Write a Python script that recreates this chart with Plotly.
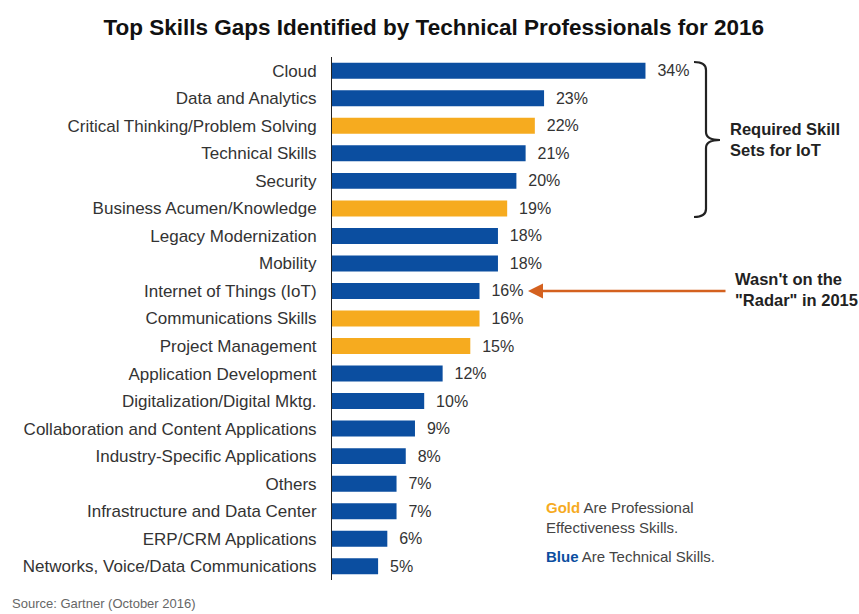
import plotly.graph_objects as go

categories = [
    "Cloud", "Data and Analytics", "Critical Thinking/Problem Solving", "Technical Skills",
    "Security", "Business Acumen/Knowledge", "Legacy Modernization", "Mobility",
    "Internet of Things (IoT)", "Communications Skills", "Project Management",
    "Application Development", "Digitalization/Digital Mktg.",
    "Collaboration and Content Applications", "Industry-Specific Applications", "Others",
    "Infrastructure and Data Center", "ERP/CRM Applications",
    "Networks, Voice/Data Communications",
]
values = [34, 23, 22, 21, 20, 19, 18, 18, 16, 16, 15, 12, 10, 9, 8, 7, 7, 6, 5]
skill_type = ["T", "T", "P", "T", "T", "P", "T", "T", "T", "P", "P", "T", "T", "T", "T", "T", "T", "T", "T"]

BLUE = "#0B4EA0"
GOLD = "#F6AB1F"
ORANGE = "#D4611F"
colors = [GOLD if t == "P" else BLUE for t in skill_type]
FONT = "Liberation Sans, Arial"

W, H = 859, 614
L, R, T, B = 332, 0, 57, 34
PW, PH = W - L - R, H - T - B


def px(x):
    return (x - L) / PW


def py(y):
    return (H - B - y) / PH


fig = go.Figure(go.Bar(
    y=categories, x=values, orientation="h",
    marker=dict(color=colors, line=dict(width=0)),
    text=[f"  {v}%" for v in values], textposition="outside",
    constraintext="none",
    textfont=dict(family=FONT, size=16, color="#333"),
    cliponaxis=False, width=0.58,
))

fig.update_layout(
    width=W, height=H,
    margin=dict(l=L, r=R, t=T, b=B),
    paper_bgcolor="white", plot_bgcolor="white",
    showlegend=False,
    font=dict(family=FONT, color="#333"),
    title=dict(
        text="<b>Top Skills Gaps Identified by Technical Professionals for 2016</b>",
        x=0.505, xanchor="center", y=1 - 27 / H, yanchor="middle",
        font=dict(family=FONT, size=22.5, color="#111"),
    ),
    xaxis=dict(range=[0, PW / 9.22], visible=False),
    yaxis=dict(
        autorange="reversed", showline=True, linecolor="#222", linewidth=1,
        ticks="", ticklabelstandoff=11, showgrid=False,
        tickfont=dict(family=FONT, size=17, color="#333"),
    ),
)

# brace
x0, x1, xt = px(694), px(706), px(720)
ytop, ymid, ybot = py(62), py(140), py(217)
d1 = py(62) - py(70)
path = (
    f"M {x0},{ytop} Q {x1},{ytop} {x1},{ytop - d1} "
    f"L {x1},{ymid + d1} Q {x1},{ymid} {xt},{ymid} "
    f"Q {x1},{ymid} {x1},{ymid - d1} "
    f"L {x1},{ybot + d1} Q {x1},{ybot} {x0},{ybot}"
)
fig.add_shape(type="path", path=path, xref="paper", yref="paper",
              line=dict(color="#222", width=2.2))

fig.add_annotation(
    x=px(728), y=py(139), xref="paper", yref="paper", xanchor="left", yanchor="middle",
    text="<b>Required Skill<br>Sets for IoT</b>", showarrow=False, align="left",
    font=dict(family=FONT, size=16.5, color="#222"),
)

# arrow
fig.add_annotation(
    x=px(528), y=py(291), xref="paper", yref="paper", text="",
    showarrow=True, ax=727 - 528, ay=0, arrowhead=2, arrowsize=1.2,
    arrowwidth=2.5, arrowcolor=ORANGE,
)
fig.add_annotation(
    x=px(733), y=py(289), xref="paper", yref="paper", xanchor="left", yanchor="middle",
    text="<b>Wasn't on the<br>\"Radar\" in 2015</b>", showarrow=False, align="left",
    font=dict(family=FONT, size=16.5, color="#222"),
)

# key text
fig.add_annotation(
    x=px(544), y=py(517), xref="paper", yref="paper", xanchor="left", yanchor="middle",
    text=f"<b><span style='color:{GOLD}'>Gold</span></b> Are Professional<br>Effectiveness Skills.",
    showarrow=False, align="left",
    font=dict(family=FONT, size=15, color="#444"),
)
fig.add_annotation(
    x=px(544), y=py(556), xref="paper", yref="paper", xanchor="left", yanchor="middle",
    text=f"<b><span style='color:{BLUE}'>Blue</span></b> Are Technical Skills.",
    showarrow=False, align="left",
    font=dict(family=FONT, size=15, color="#444"),
)

# source
fig.add_annotation(
    x=px(10), y=py(603), xref="paper", yref="paper", xanchor="left", yanchor="middle",
    text="Source: Gartner (October 2016)", showarrow=False,
    font=dict(family=FONT, size=13, color="#666"),
)

fig.write_html("out.html")
